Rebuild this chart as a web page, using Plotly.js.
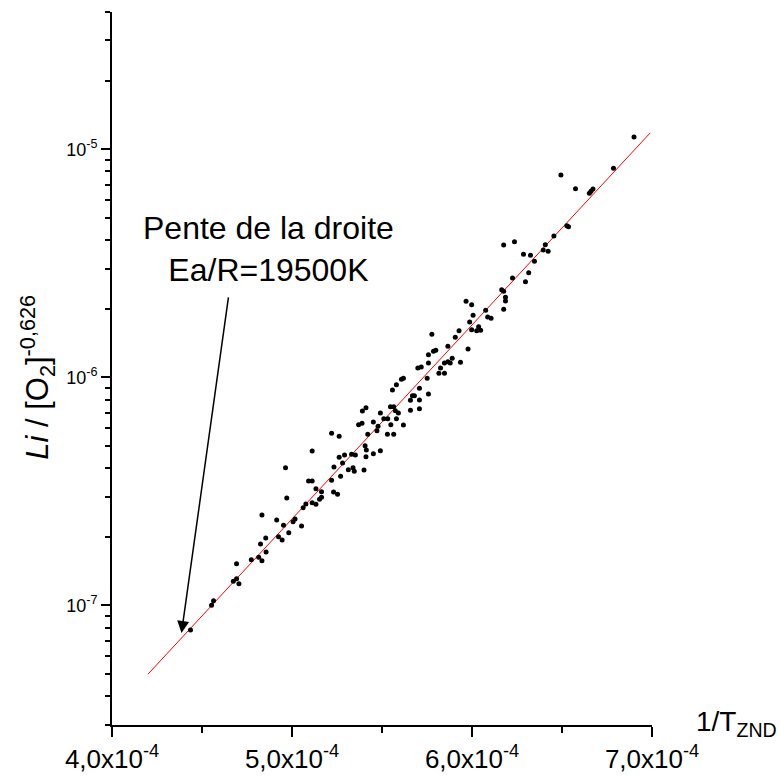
<!DOCTYPE html>
<html>
<head>
<meta charset="utf-8">
<script src="https://cdn.plot.ly/plotly-3.0.1.min.js"></script>
<style>html,body{margin:0;padding:0;background:#fff;}#chart{width:780px;height:777px;}</style>
</head>
<body>
<div id="chart"></div>
<script>
// 1/T_ZND (K^-1)
const invT = [4.436e-4,4.553e-4,4.564e-4,4.674e-4,4.692e-4,4.705e-4,4.692e-4,4.774e-4,4.815e-4,4.833e-4,
4.856e-4,4.825e-4,4.854e-4,4.833e-4,4.915e-4,4.925e-4,4.945e-4,4.953e-4,4.982e-4,5.006e-4,
5.017e-4,5.053e-4,4.971e-4,5.062e-4,5.077e-4,5.092e-4,4.964e-4,5.112e-4,5.133e-4,5.153e-4,
5.164e-4,5.133e-4,5.164e-4,5.112e-4,5.112e-4,5.220e-4,5.231e-4,5.253e-4,5.233e-4,5.270e-4,
5.281e-4,5.262e-4,5.292e-4,5.313e-4,5.339e-4,5.346e-4,5.331e-4,5.352e-4,5.220e-4,5.262e-4,
5.400e-4,5.411e-4,5.406e-4,5.413e-4,5.452e-4,5.491e-4,5.421e-4,5.370e-4,5.389e-4,5.391e-4,
5.411e-4,5.452e-4,5.478e-4,5.472e-4,5.491e-4,5.510e-4,5.532e-4,5.530e-4,5.549e-4,5.565e-4,
5.580e-4,5.547e-4,5.565e-4,5.574e-4,5.591e-4,5.558e-4,5.619e-4,5.658e-4,5.708e-4,5.658e-4,
5.669e-4,5.680e-4,5.708e-4,5.708e-4,5.758e-4,5.751e-4,5.580e-4,5.608e-4,5.619e-4,5.699e-4,
5.718e-4,5.758e-4,5.758e-4,5.786e-4,5.799e-4,5.777e-4,5.816e-4,5.847e-4,5.825e-4,5.847e-4,
5.866e-4,5.879e-4,5.890e-4,5.866e-4,5.936e-4,5.907e-4,5.928e-4,5.978e-4,5.987e-4,5.967e-4,
5.998e-4,6.006e-4,5.998e-4,6.026e-4,6.037e-4,6.048e-4,6.076e-4,6.087e-4,6.106e-4,6.165e-4,
6.176e-4,6.186e-4,6.186e-4,6.176e-4,6.176e-4,6.236e-4,6.225e-4,6.297e-4,6.315e-4,6.286e-4,
6.325e-4,6.347e-4,6.396e-4,6.407e-4,6.423e-4,6.455e-4,6.527e-4,6.536e-4,6.494e-4,6.575e-4,
6.652e-4,6.661e-4,6.672e-4,6.786e-4,6.900e-4];

// Li / [O2]^-0.626
const liNorm = [7.81e-8,1.002e-7,1.050e-7,1.277e-7,1.311e-7,1.246e-7,1.525e-7,1.588e-7,1.627e-7,1.572e-7,
1.717e-7,1.860e-7,1.977e-7,2.494e-7,2.371e-7,2.003e-7,1.937e-7,2.247e-7,2.085e-7,2.330e-7,
2.394e-7,2.231e-7,2.960e-7,2.684e-7,2.786e-7,3.515e-7,4.019e-7,2.823e-7,2.778e-7,2.922e-7,
2.981e-7,3.252e-7,3.154e-7,3.515e-7,4.756e-7,3.540e-7,3.145e-7,3.073e-7,4.048e-7,3.686e-7,
4.214e-7,4.463e-7,4.568e-7,3.939e-7,4.019e-7,3.875e-7,4.601e-7,4.568e-7,5.687e-7,5.518e-7,
3.926e-7,4.491e-7,5.019e-7,4.805e-7,4.629e-7,4.772e-7,5.631e-7,6.204e-7,6.292e-7,7.124e-7,
7.366e-7,6.374e-7,6.104e-7,5.838e-7,6.981e-7,6.589e-7,6.589e-7,5.631e-7,6.204e-7,5.631e-7,
6.589e-7,7.441e-7,7.441e-7,7.145e-7,6.981e-7,8.806e-7,6.184e-7,7.175e-7,7.292e-7,7.937e-7,
8.315e-7,8.315e-7,7.961e-7,8.957e-7,8.458e-7,9.911e-7,9.290e-7,9.811e-7,9.911e-7,1.100e-6,
1.111e-6,1.156e-6,1.257e-6,1.301e-6,1.315e-6,1.545e-6,1.042e-6,1.042e-6,1.100e-6,1.156e-6,
1.172e-6,1.156e-6,1.212e-6,1.369e-6,1.165e-6,1.499e-6,1.602e-6,1.332e-6,1.750e-6,2.156e-6,
2.083e-6,1.872e-6,1.619e-6,1.602e-6,1.668e-6,1.609e-6,1.968e-6,1.840e-6,1.816e-6,2.424e-6,
2.385e-6,2.245e-6,2.162e-6,1.988e-6,3.806e-6,3.934e-6,2.728e-6,2.628e-6,2.877e-6,3.466e-6,
3.431e-6,3.228e-6,3.618e-6,3.818e-6,3.571e-6,4.168e-6,4.625e-6,4.578e-6,7.713e-6,6.718e-6,
6.412e-6,6.544e-6,6.699e-6,8.255e-6,1.132e-5];

// fitted line endpoints (Ea/R = 19500 K)
const fitX = [4.2e-4, 6.99e-4];
const fitY = [5.0e-8, 1.18e-5];

// tick labels
const xTickVals = [4e-4, 5e-4, 6e-4, 7e-4];
const xTickText = ['4,0x10<sup>-4</sup>', '5,0x10<sup>-4</sup>', '6,0x10<sup>-4</sup>', '7,0x10<sup>-4</sup>'];
const xMinorVals = [4.5e-4, 5.5e-4, 6.5e-4];
const yTickVals = [1e-7, 1e-6, 1e-5];
const yTickText = ['10<sup>-7</sup>', '10<sup>-6</sup>', '10<sup>-5</sup>'];
const yDecades = [1e-8, 1e-7, 1e-6, 1e-5];
const yMantissas = [2, 3, 4, 5, 6, 7, 8, 9];

// annotation anchor values
const arrowTip = [4.386e-4, 7.57e-8];
const arrowTail = [4.648e-4, 2.275e-6];
const noteText = 'Pente de la droite<br>Ea/R=19500K';

const FONT = 'Liberation Sans, Arial, sans-serif';
const X_RANGE = [4e-4, 7e-4];
const Y_RANGE = [-7.524, -4.398];

// minor tick positions on the log axis (2..9 in each decade)
const yMinorVals = [];
yDecades.forEach(d => yMantissas.forEach(m => yMinorVals.push(m * d)));

const traces = [
  {
    x: fitX, y: fitY, type: 'scatter', mode: 'lines',
    line: {color: '#ff0000', width: 1}, hoverinfo: 'skip'
  },
  {
    x: invT, y: liNorm, type: 'scatter', mode: 'markers',
    marker: {color: '#000000', size: 5}
  }
];

const layout = {
  width: 780, height: 777,
  margin: {l: 112, r: 128, t: 12, b: 52},
  paper_bgcolor: '#ffffff', plot_bgcolor: '#ffffff',
  showlegend: false,
  font: {family: FONT, color: '#000'},
  xaxis: {
    range: X_RANGE,
    showgrid: false, zeroline: false,
    showline: true, linecolor: '#000', linewidth: 2,
    ticks: 'outside', ticklen: 10, tickwidth: 2, tickcolor: '#000',
    tickmode: 'array', tickvals: xTickVals, ticktext: xTickText,
    tickfont: {family: FONT, size: 26, color: '#000'},
    minor: {tickmode: 'array', tickvals: xMinorVals, ticks: 'outside', ticklen: 6, tickwidth: 2, tickcolor: '#000', showgrid: false}
  },
  yaxis: {
    type: 'log',
    range: Y_RANGE,
    showgrid: false, zeroline: false,
    showline: true, linecolor: '#000', linewidth: 2,
    ticks: 'outside', ticklen: 9, tickwidth: 2, tickcolor: '#000',
    tickmode: 'array', tickvals: yTickVals, ticktext: yTickText,
    tickfont: {family: FONT, size: 18, color: '#000'},
    minor: {tickmode: 'array', tickvals: yMinorVals, ticks: 'outside', ticklen: 5, tickwidth: 2, tickcolor: '#000', showgrid: false}
  },
  annotations: [
    {
      x: arrowTip[0], y: Math.log10(arrowTip[1]), xref: 'x', yref: 'y',
      ax: arrowTail[0], ay: Math.log10(arrowTail[1]), axref: 'x', ayref: 'y',
      showarrow: true, arrowhead: 2, arrowsize: 1.6, arrowwidth: 1.5, arrowcolor: '#000', text: ''
    },
    {
      x: 0.289, y: 0.667, xref: 'paper', yref: 'paper', xanchor: 'center', yanchor: 'middle',
      text: noteText, showarrow: false, align: 'center',
      font: {family: FONT, size: 32, color: '#000'}
    },
    {
      x: 1.078, y: 0.002, xref: 'paper', yref: 'paper', xanchor: 'left', yanchor: 'middle',
      text: '1/T<sub>ZND</sub>', showarrow: false,
      font: {family: FONT, size: 28, color: '#000'}
    },
    {
      x: -0.137, y: 0.487, xref: 'paper', yref: 'paper', xanchor: 'center', yanchor: 'middle',
      textangle: -90,
      text: '<i>Li</i> / [O<sub>2</sub>]<sup>-0,626</sup>', showarrow: false,
      font: {family: FONT, size: 31, color: '#000'}
    }
  ]
};

Plotly.newPlot('chart', traces, layout, {displayModeBar: false, staticPlot: true});
</script>
</body>
</html>
